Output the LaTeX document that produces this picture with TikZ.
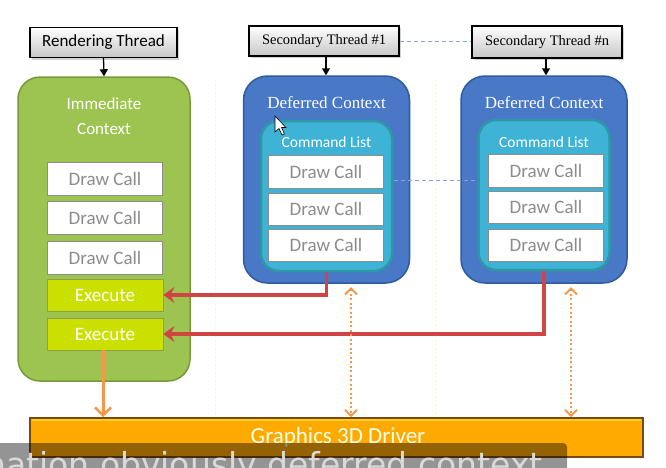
\documentclass[tikz,border=0pt]{standalone}
\usepackage{fontspec}
\newfontfamily\calfont{Carlito}
\newfontfamily\serfont{Liberation Serif}
\newfontfamily\subfont{DejaVu Sans}
\usetikzlibrary{arrows.meta,shadows,calc}
\definecolor{gfill}{HTML}{9DC350}
\definecolor{gdraw}{HTML}{779A3B}
\definecolor{exfill}{HTML}{CCE000}
\definecolor{exdraw}{HTML}{8E9E4A}
\definecolor{bfill}{HTML}{4878C6}
\definecolor{bdraw}{HTML}{2F5C9E}
\definecolor{cfill}{HTML}{3EB3D5}
\definecolor{cdraw}{HTML}{2F98A6}
\definecolor{redarr}{HTML}{D04444}
\definecolor{orarr}{HTML}{F79646}
\definecolor{drv}{HTML}{FFAA00}
\definecolor{drvdraw}{HTML}{7A4A14}
\definecolor{dashc}{HTML}{8EA4CC}
\definecolor{dctext}{HTML}{8C8C8C}
\definecolor{faintc}{HTML}{FBF3DE}
\begin{document}
\begin{tikzpicture}[x=1pt,y=-1pt,
  thread/.style={draw=black, line width=1.1pt, top color=white, bottom color=black!22,
    drop shadow={shadow xshift=2pt, shadow yshift=-2pt, opacity=0.35},
    inner sep=0pt, minimum height=30pt},
  ctxgreen/.style={draw=gdraw, line width=1.5pt, fill=gfill, rounded corners=22pt,
    minimum width=172pt, minimum height=304pt, inner sep=0pt},
  ctxblue/.style={draw=bdraw, line width=1.5pt, fill=bfill, rounded corners=24pt,
    minimum width=166pt, minimum height=207pt, inner sep=0pt},
  cmdlist/.style={draw=cdraw, line width=2.5pt, fill=cfill, rounded corners=18pt,
    minimum width=131pt, minimum height=150pt, inner sep=0pt},
  dcall/.style={draw=black!45, line width=0.8pt, fill=white, text=dctext,
    font=\calfont\fontsize{19}{22}\selectfont, minimum width=115pt, minimum height=33pt, inner sep=0pt},
  execbox/.style={draw=exdraw, line width=0.8pt, fill=exfill, text=white,
    font=\calfont\fontsize{19}{22}\selectfont, minimum width=116pt, minimum height=32pt, inner sep=0pt},
  titletext/.style={text=white, inner sep=0pt},
  tharrow/.style={draw=black, line width=1.3pt, -{Triangle[length=7pt,width=8pt]}},
  redline/.style={draw=redarr, line width=3.5pt, -{Stealth[length=11pt,width=16pt,inset=4pt]}},
  ordot/.style={draw=orarr, line width=2.5pt, dash pattern=on 2pt off 2.5pt,
    {Straight Barb[length=6pt,width=12pt,line width=2pt]}-{Straight Barb[length=6pt,width=12pt,line width=2pt]}},
  orsolid/.style={draw=orarr, line width=3pt, -{Straight Barb[length=8pt,width=16pt,line width=2.5pt]}},
  dashlink/.style={draw=dashc, line width=1pt, dash pattern=on 4pt off 3pt},
  faint/.style={draw=faintc, line width=1pt, dash pattern=on 2pt off 2pt}
]
\useasboundingbox (0,0) rectangle (666,467);
\fill[white] (0,0) rectangle (666,467);

% faint guide lines
\draw[faint] (215,80) -- (215,418);
\draw[faint] (436,80) -- (436,418);

% threads
\node[thread, minimum width=147pt, font=\calfont\fontsize{17}{20}\selectfont] (rt) at (103.5,42.5) {Rendering Thread};
\node[thread, minimum width=150pt, font=\serfont\fontsize{14.5}{17}\selectfont] (st1) at (324,41) {Secondary Thread \#1};
\node[thread, minimum width=150pt, minimum height=32pt, font=\serfont\fontsize{14.5}{17}\selectfont] (stn) at (547,42) {Secondary Thread \#n};
\draw[dashlink] (st1.east) -- (st1.east -| stn.west);

% immediate context
\node[ctxgreen] (imm) at (104,229) {};
\node[titletext, align=center, font=\calfont\fontsize{17}{25}\selectfont] (immt) at (104,116) {Immediate\\Context};
\node[dcall] (idc1) at (105,178.5) {Draw Call};
\node[dcall] (idc2) at (105,218) {Draw Call};
\node[dcall] (idc3) at (105,257.5) {Draw Call};
\node[execbox] (ex1) at (105,295) {Execute};
\node[execbox] (ex2) at (105,334) {Execute};

% deferred contexts
\node[ctxblue] (d1) at (326.5,179.5) {};
\node[titletext, font=\serfont\fontsize{17}{20}\selectfont] (d1t) at (326.5,103) {Deferred Context};
\node[cmdlist] (cl1) at (326.5,196) {};
\node[titletext, font=\calfont\fontsize{15.5}{18}\selectfont] (cl1t) at (326.5,142) {Command List};
\node[dcall] (a1) at (326,171.5) {Draw Call};
\node[dcall, minimum height=32pt] (a2) at (326,209) {Draw Call};
\node[dcall, minimum height=32pt] (a3) at (326,245) {Draw Call};

\node[ctxblue] (d2) at (544,179.5) {};
\node[titletext, font=\serfont\fontsize{17}{20}\selectfont] (d2t) at (544,103) {Deferred Context};
\node[cmdlist] (cl2) at (544,195) {};
\node[titletext, font=\calfont\fontsize{15.5}{18}\selectfont] (cl2t) at (544,142) {Command List};
\node[dcall] (b1) at (546,170.5) {Draw Call};
\node[dcall, minimum height=32pt] (b2) at (546,207) {Draw Call};
\node[dcall, minimum height=32pt] (b3) at (546,245) {Draw Call};

\draw[dashlink] ($(cl1.east)+(1,-16)$) -- ($(cl2.west)+(-1,-15)$);

% thread arrows
\draw[tharrow] (rt.south) -- (imm.north);
\draw[tharrow] (st1.south -| 326,0) -- (d1.north -| 326,0);
\draw[tharrow] (stn.south -| 546,0) -- (d2.north -| 546,0);

% driver
\node[draw=drvdraw, line width=1.6pt, fill=drv, minimum width=613pt, minimum height=39pt, inner sep=0pt] (drvb) at (336.5,437.5) {};
\draw[orange!40!yellow!80!white, line width=1.5pt, opacity=0.8] ($(drvb.north west)+(3,3)$) -- ($(drvb.north east)+(-3,3)$);
\node[text=white!92!green, font=\calfont\fontsize{23}{26}\selectfont, inner sep=0pt] (drvt) at (338,437) {Graphics 3D Driver};

% execute arrows
\draw[redline] (cl1.south) |- (ex1.east);
\draw[redline] (cl2.south) |- (ex2.east);

% orange arrows
\coordinate (o1) at (351,287);
\coordinate (o2) at (571,287);
\draw[ordot] (o1) -- (o1 |- drvb.north);
\draw[ordot] (o2) -- (o2 |- drvb.north);
\draw[orsolid] (ex2.south -| 103,0) -- (drvb.north -| 103,0);

% cursor
\draw[black, line width=0.6pt, fill=white] (275,116) -- (275,132) -- (279,128.5) -- (282,135) -- (284.5,134) -- (281.5,127.5) -- (286,127.5) -- cycle;

% subtitle overlay
\begin{scope}
\clip (0,0) rectangle (666,467);
\fill[black, opacity=0.42, rounded corners=4pt] (-10,443) rectangle (567,490);
\node[anchor=base west, text=white!85!black, font=\subfont\fontsize{33}{36}\selectfont, inner sep=0pt] (sub) at (-15,476.5) {nation obviously deferred context};
\end{scope}
\end{tikzpicture}
\end{document}
